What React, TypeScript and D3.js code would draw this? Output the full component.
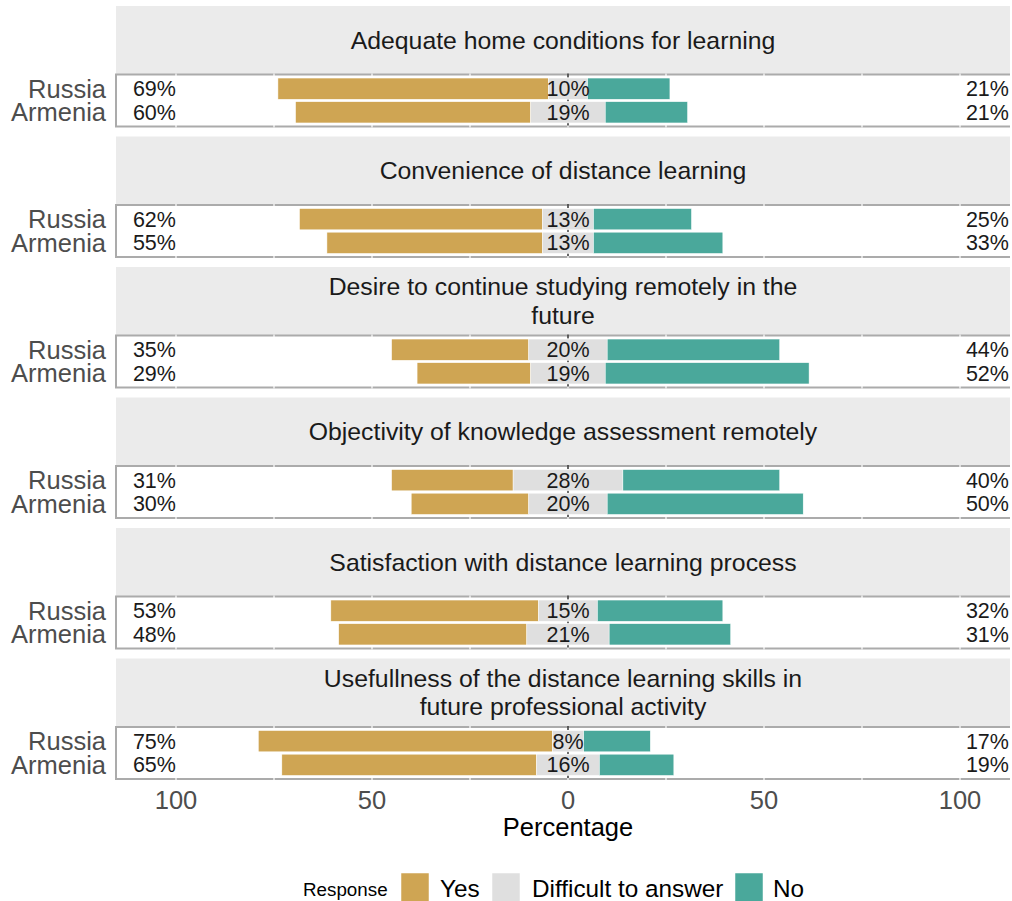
import React from 'react';
import * as d3 from 'd3';

const questions = [
  ['Adequate home conditions for learning'],
  ['Convenience of distance learning'],
  ['Desire to continue studying remotely in the', 'future'],
  ['Objectivity of knowledge assessment remotely'],
  ['Satisfaction with distance learning process'],
  ['Usefullness of the distance learning skills in', 'future professional activity'],
];
const countries = ['Russia', 'Armenia'];
const responses = ['Yes', 'Difficult to answer', 'No'];
const colors = ['#CFA553', '#DFDFDF', '#4AA89B'];

// [Russia, Armenia] per question
const yesPct = [[69, 60], [62, 55], [35, 29], [31, 30], [53, 48], [75, 65]];
const neutralPct = [[10, 19], [13, 13], [20, 19], [28, 20], [15, 21], [8, 16]];
const noPct = [[21, 21], [25, 33], [44, 52], [40, 50], [32, 31], [17, 19]];

const xTicks = [-100, -50, 0, 50, 100];
const gridTicks = d3.range(-100, 101, 25);

const W = 1012;
const H = 901;
const panelLeft = 116;
const panelRight = 1010;
const stripH = 68;
const panelH = 52;
const facetStep = 130.5;
const font = '"Liberation Sans", Arial, Helvetica, sans-serif';

const x = d3.scaleLinear().domain([-100, 100]).range([176, 960]);

const Facet = ({ i }: { i: number }) => {
  const stripTop = 6 + i * facetStep;
  const panelTop = stripTop + stripH + 0.5;
  const y = d3.scaleBand<string>()
    .domain(countries)
    .range([panelTop, panelTop + panelH])
    .paddingInner(0.1)
    .paddingOuter(0.15);
  const lines = questions[i];
  const stripMid = stripTop + stripH / 2;
  const lh = 28.5;

  return (
    <g>
      <rect x={panelLeft} y={stripTop} width={panelRight - panelLeft} height={stripH} fill="#EBEBEB" />
      {lines.map((l, k) => (
        <text key={k} x={(panelLeft + panelRight) / 2} y={stripMid + (k - (lines.length - 1) / 2) * lh}
          dy="0.35em" textAnchor="middle" fontSize={24.8} fill="#1a1a1a">{l}</text>
      ))}
      <rect x={panelLeft} y={panelTop} width={panelRight - panelLeft} height={panelH} fill="#fff" />
      <path d={`M${panelRight},${panelTop}H${panelLeft}V${panelTop + panelH}H${panelRight}`}
        fill="none" stroke="#ABABAB" strokeWidth={2} />
      {gridTicks.map(t => (
        <line key={t} x1={x(t)} x2={x(t)} y1={panelTop - 1} y2={panelTop + panelH + 1} stroke="#fff" strokeWidth={1.2} />
      ))}
      <line x1={x(0)} x2={x(0)} y1={panelTop - 1} y2={panelTop + panelH + 1} stroke="#000" strokeWidth={1.2} strokeDasharray="4,4" />
      {countries.map((c, j) => {
        const yes = yesPct[i][j];
        const neu = neutralPct[i][j];
        const no = noPct[i][j];
        const yy = y(c)!;
        const bh = y.bandwidth();
        const mid = yy + bh / 2;
        return (
          <g key={c}>
            <rect x={x(-neu / 2 - yes)} y={yy} width={x(-neu / 2) - x(-neu / 2 - yes)} height={bh}
              fill={colors[0]} stroke="#fff" strokeWidth={0.5} />
            <rect x={x(-neu / 2)} y={yy} width={x(neu / 2) - x(-neu / 2)} height={bh}
              fill={colors[1]} stroke="#fff" strokeWidth={0.5} />
            <rect x={x(neu / 2)} y={yy} width={x(neu / 2 + no) - x(neu / 2)} height={bh}
              fill={colors[2]} stroke="#fff" strokeWidth={0.5} />
            <text x={x(0)} y={mid} dy="0.35em" textAnchor="middle" fontSize={21.5} fill="#1a1a1a">{neu}%</text>
            <text x={x(-105.5)} y={mid} dy="0.35em" textAnchor="middle" fontSize={21.5} fill="#1a1a1a">{yes}%</text>
            <text x={x(107)} y={mid} dy="0.35em" textAnchor="middle" fontSize={21.5} fill="#1a1a1a">{no}%</text>
            <text x={106} y={mid} dy="0.35em" textAnchor="end" fontSize={25.5} fill="#4d4d4d">{c}</text>
          </g>
        );
      })}
    </g>
  );
};

const legendKeys = [401, 492, 735];
const legendText = [440, 532, 773];

export default function App() {
  return (
    <svg width={W} height={H} style={{ position: 'absolute', left: 0, top: 0, fontFamily: font }}>
      <rect width={W} height={H} fill="#fff" />
      {questions.map((_, i) => <Facet key={i} i={i} />)}
      {xTicks.map(t => (
        <text key={t} x={x(t)} y={809} textAnchor="middle" fontSize={25.5} fill="#4d4d4d">{Math.abs(t)}</text>
      ))}
      <text x={x(0)} y={836} textAnchor="middle" fontSize={25.5} fill="#000">Percentage</text>
      <text x={303} y={896} fontSize={18.8} fill="#000">Response</text>
      {responses.map((r, k) => (
        <g key={r}>
          <rect x={legendKeys[k]} y={873} width={28} height={30} fill={colors[k]} stroke="#fff" strokeWidth={0.5} />
          <text x={legendText[k]} y={897} fontSize={24.3} fill="#000">{r}</text>
        </g>
      ))}
    </svg>
  );
}
